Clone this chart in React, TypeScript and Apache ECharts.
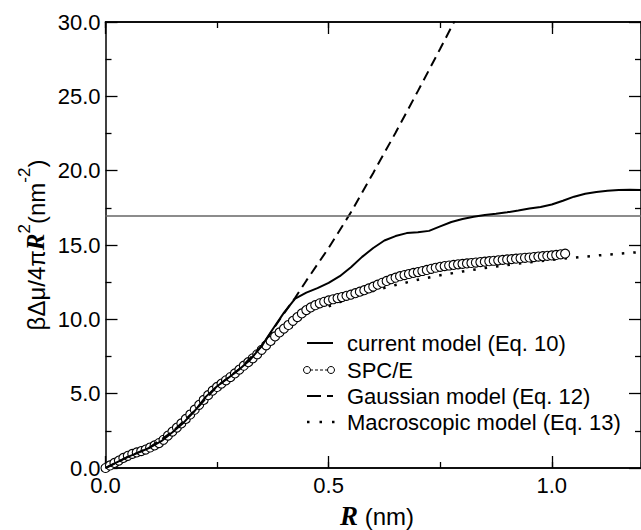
import React, { useEffect, useRef } from "react";
import * as echarts from "echarts";

// ---- data ----
const currentR = [0, 0.025, 0.05, 0.075, 0.1, 0.125, 0.15, 0.175, 0.2, 0.225, 0.25, 0.275, 0.3, 0.325, 0.35, 0.375, 0.4, 0.425, 0.45, 0.475, 0.5, 0.525, 0.55, 0.575, 0.6, 0.625, 0.65, 0.675, 0.7, 0.725, 0.75, 0.775, 0.8, 0.825, 0.85, 0.875, 0.9, 0.925, 0.95, 0.975, 1.0, 1.025, 1.05, 1.075, 1.1, 1.125, 1.15, 1.175, 1.2];
const currentY = [0, 0.38, 0.75, 1.05, 1.38, 1.8, 2.4, 3.05, 3.85, 4.8, 5.5, 6.05, 6.65, 7.3, 8.2, 9.35, 10.45, 11.4, 11.8, 12.1, 12.45, 12.9, 13.5, 14.2, 14.8, 15.3, 15.6, 15.8, 15.85, 15.95, 16.25, 16.55, 16.75, 16.9, 17.02, 17.1, 17.2, 17.32, 17.45, 17.55, 17.72, 17.98, 18.25, 18.45, 18.57, 18.65, 18.7, 18.72, 18.7];

const gaussR = [0, 0.05, 0.1, 0.15, 0.2, 0.25, 0.3, 0.35, 0.4, 0.425, 0.45, 0.475, 0.5, 0.55, 0.6, 0.65, 0.7, 0.75, 0.8];
const gaussY = [0, 0.75, 1.4, 2.45, 3.85, 5.5, 6.65, 8.2, 10.4, 11.45, 12.6, 13.7, 14.8, 17.2, 19.85, 22.55, 25.35, 28.2, 31.1];

const spcR = [
  0.0, 0.01, 0.02, 0.03, 0.04, 0.05, 0.06, 0.07, 0.08, 0.09,
  0.1, 0.11, 0.12, 0.13, 0.14, 0.15, 0.16, 0.17, 0.18, 0.19,
  0.2, 0.21, 0.22, 0.23, 0.24, 0.25, 0.26, 0.27, 0.28, 0.29,
  0.3, 0.31, 0.32, 0.33, 0.34, 0.35, 0.36, 0.37, 0.38, 0.39,
  0.4, 0.41, 0.42, 0.43, 0.44, 0.45, 0.46, 0.47, 0.48, 0.49,
  0.5, 0.51, 0.52, 0.53, 0.54, 0.55, 0.56, 0.57, 0.58, 0.59,
  0.6, 0.61, 0.62, 0.63, 0.64, 0.65, 0.66, 0.67, 0.68, 0.69,
  0.7, 0.71, 0.72, 0.73, 0.74, 0.75, 0.76, 0.77, 0.78, 0.79,
  0.8, 0.81, 0.82, 0.83, 0.84, 0.85, 0.86, 0.87, 0.88, 0.89,
  0.9, 0.91, 0.92, 0.93, 0.94, 0.95, 0.96, 0.97, 0.98, 0.99,
  1.0, 1.01, 1.02, 1.03,
];
const spcY = [
  0.0, 0.17, 0.34, 0.5, 0.68, 0.82, 0.95, 1.05, 1.14, 1.24,
  1.38, 1.52, 1.68, 1.9, 2.18, 2.45, 2.72, 3.0, 3.3, 3.6,
  3.92, 4.25, 4.58, 4.9, 5.2, 5.45, 5.68, 5.9, 6.12, 6.36,
  6.62, 6.88, 7.12, 7.38, 7.65, 7.95, 8.25, 8.55, 8.85, 9.12,
  9.38, 9.62, 9.9, 10.15, 10.4, 10.62, 10.8, 10.95, 11.08, 11.18,
  11.27, 11.35, 11.43, 11.5, 11.58, 11.66, 11.76, 11.86, 11.96, 12.08,
  12.2, 12.33, 12.46, 12.58, 12.7, 12.8, 12.9, 12.98, 13.05, 13.12,
  13.18, 13.25, 13.32, 13.4, 13.47, 13.53, 13.58, 13.62, 13.66, 13.7,
  13.73, 13.76, 13.79, 13.82, 13.85, 13.88, 13.91, 13.94, 13.97, 14.0,
  14.03, 14.05, 14.08, 14.11, 14.14, 14.16, 14.19, 14.22, 14.25, 14.27,
  14.3, 14.33, 14.37, 14.42,
];

const macroR = [0.5, 0.55, 0.6, 0.65, 0.7, 0.75, 0.8, 0.85, 0.9, 0.95, 1.0, 1.05, 1.1, 1.15, 1.2];
const macroY = [10.87, 11.44, 11.91, 12.31, 12.66, 12.96, 13.22, 13.45, 13.65, 13.84, 14.0, 14.15, 14.29, 14.41, 14.53];

const referenceLevel = 17.0;
const legendLabels = [
  "current model (Eq. 10)",
  "SPC/E",
  "Gaussian model (Eq. 12)",
  "Macroscopic model (Eq. 13)",
];
const xRange = [0, 1.2];
const yRange = [0, 30];

const FONT = "Liberation Sans, Arial, Helvetica, sans-serif";
const SERIF = "Liberation Serif, Times New Roman, serif";

const zip = (a: number[], b: number[]) => a.map((v, i) => [v, b[i]]);

export default function App() {
  const ref = useRef<HTMLDivElement>(null);

  useEffect(() => {
    if (!ref.current) return;
    const chart = echarts.init(ref.current, undefined, { renderer: "svg" });

    const axisLine = { show: true, onZero: false, lineStyle: { color: "#000", width: 1.5 } };
    const tickStyle = { color: "#000", width: 1.3 };

    const xBase = {
      type: "value" as const,
      min: xRange[0],
      max: xRange[1],
      splitLine: { show: false },
      axisLine,
    };
    const yBase = {
      type: "value" as const,
      min: yRange[0],
      max: yRange[1],
      interval: 5,
      splitLine: { show: false },
      axisLine,
      axisTick: { show: true, inside: true, length: 12, lineStyle: tickStyle },
      minorTick: { show: true, splitNumber: 2, length: 6, lineStyle: tickStyle },
    };

    const legendX0 = 307;
    const legendX1 = 333;
    const textX = 347;
    const rows = [343, 370, 396, 422];

    const legendGraphics: any[] = [];
    legendGraphics.push({
      type: "line",
      shape: { x1: legendX0, y1: rows[0], x2: legendX1, y2: rows[0] },
      style: { stroke: "#000", lineWidth: 2 },
    });
    legendGraphics.push({
      type: "line",
      shape: { x1: legendX0 + 3, y1: rows[1], x2: legendX1 - 3, y2: rows[1] },
      style: { stroke: "#000", lineWidth: 1, lineDash: [3, 2] },
    });
    legendGraphics.push({
      type: "circle",
      shape: { cx: legendX0, cy: rows[1], r: 3.5 },
      style: { stroke: "#000", fill: "#fff", lineWidth: 1 },
    });
    legendGraphics.push({
      type: "circle",
      shape: { cx: legendX1 - 2, cy: rows[1], r: 3.5 },
      style: { stroke: "#000", fill: "#fff", lineWidth: 1 },
    });
    legendGraphics.push({
      type: "line",
      shape: { x1: legendX0, y1: rows[2], x2: legendX1, y2: rows[2] },
      style: { stroke: "#000", lineWidth: 2, lineDash: [14, 6] },
    });
    legendGraphics.push({
      type: "line",
      shape: { x1: legendX0, y1: rows[3], x2: legendX1 + 2, y2: rows[3] },
      style: { stroke: "#000", lineWidth: 2.5, lineDash: [2.5, 10] },
    });
    legendLabels.forEach((t, i) => {
      legendGraphics.push({
        type: "text",
        x: textX,
        y: rows[i],
        style: {
          text: t,
          fontSize: 22,
          fontFamily: FONT,
          fill: "#000",
          align: "left",
          verticalAlign: "middle",
        },
      });
    });

    chart.setOption({
      animation: false,
      backgroundColor: "#fff",
      grid: { left: 105.5, top: 22, width: 541, height: 446, containLabel: false },
      xAxis: [
        {
          ...xBase,
          position: "bottom",
          interval: 0.5,
          axisTick: { show: true, inside: true, length: 12, lineStyle: tickStyle },
          axisLabel: {
            show: true,
            formatter: (v: number) => v.toFixed(1),
            fontSize: 22,
            fontFamily: FONT,
            color: "#000",
            margin: 6,
            showMaxLabel: false,
          },
        },
        {
          ...xBase,
          position: "bottom",
          interval: 0.25,
          axisTick: { show: true, inside: true, length: 6, lineStyle: tickStyle },
          axisLabel: { show: false },
        },
        {
          ...xBase,
          position: "top",
          interval: 0.5,
          axisTick: { show: true, inside: true, length: 12, lineStyle: tickStyle },
          axisLabel: { show: false },
        },
        {
          ...xBase,
          position: "top",
          interval: 0.25,
          axisTick: { show: true, inside: true, length: 6, lineStyle: tickStyle },
          axisLabel: { show: false },
        },
      ],
      yAxis: [
        {
          ...yBase,
          position: "left",
          axisLabel: {
            show: true,
            formatter: (v: number) => v.toFixed(1),
            fontSize: 22,
            fontFamily: FONT,
            color: "#000",
            margin: 5,
          },
        },
        {
          ...yBase,
          position: "right",
          axisLabel: { show: false },
        },
      ],
      series: [
        {
          name: legendLabels[3],
          type: "line",
          data: zip(macroR, macroY),
          symbol: "none",
          lineStyle: { color: "#000", width: 2.5, type: [2.5, 9] },
          z: 2,
        },
        {
          name: legendLabels[1],
          type: "line",
          data: zip(spcR, spcY),
          symbol: "circle",
          symbolSize: 9,
          showAllSymbol: true,
          itemStyle: { color: "#fff", borderColor: "#000", borderWidth: 1.1 },
          lineStyle: { color: "#000", width: 1, type: [3, 2] },
          z: 3,
        },
        {
          name: legendLabels[2],
          type: "line",
          data: zip(gaussR, gaussY),
          symbol: "none",
          lineStyle: { color: "#000", width: 2, type: [10, 6] },
          z: 4,
        },
        {
          name: legendLabels[0],
          type: "line",
          data: zip(currentR, currentY),
          symbol: "none",
          lineStyle: { color: "#000", width: 2 },
          z: 5,
          markLine: {
            silent: true,
            symbol: "none",
            label: { show: false },
            lineStyle: { color: "#666", width: 1.5, type: "solid" },
            data: [{ yAxis: referenceLevel }],
          },
        },
      ],
      graphic: [
        {
          type: "text",
          x: 32,
          y: 245,
          rotation: Math.PI / 2,
          style: {
            text: "{a|βΔμ/4π}{r|R}{s|2}{a|(nm}{s|-2}{a|)}",
            align: "center",
            verticalAlign: "middle",
            rich: {
              a: { fontSize: 24, fontFamily: FONT, fill: "#000", lineHeight: 32, verticalAlign: "bottom" },
              r: {
                fontSize: 25,
                fontFamily: SERIF,
                fontStyle: "italic",
                fontWeight: "bold",
                fill: "#000",
                lineHeight: 32,
                verticalAlign: "bottom",
              },
              s: { fontSize: 17, fontFamily: FONT, fill: "#000", verticalAlign: "top" },
            },
          },
        },
        {
          type: "text",
          x: 377,
          y: 516,
          style: {
            text: "{r|R}{a| (nm)}",
            align: "center",
            verticalAlign: "middle",
            rich: {
              a: { fontSize: 24, fontFamily: FONT, fill: "#000" },
              r: { fontSize: 27, fontFamily: SERIF, fontStyle: "italic", fontWeight: "bold", fill: "#000" },
            },
          },
        },
        ...legendGraphics,
      ],
    });

    return () => chart.dispose();
  }, []);

  return (
    <div
      ref={ref}
      style={{ position: "absolute", left: 0, top: 0, width: 641, height: 530, background: "#fff" }}
    />
  );
}
